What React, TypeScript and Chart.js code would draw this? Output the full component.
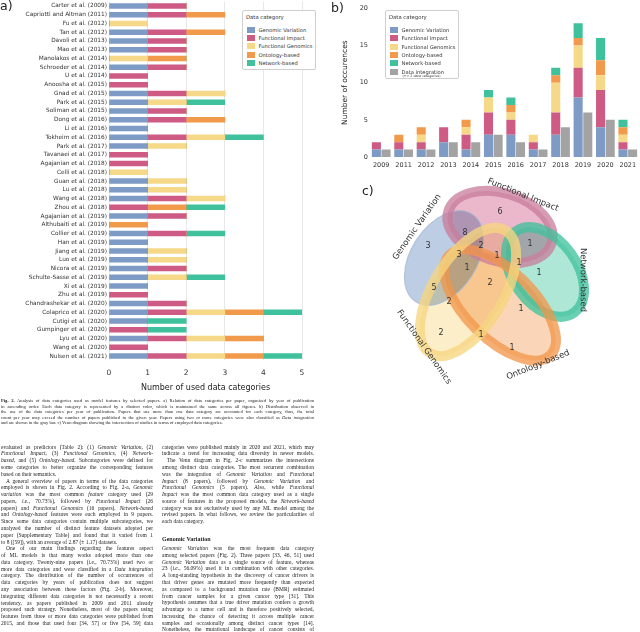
import React, { useEffect, useRef } from "react";
import { Chart, registerables } from "chart.js";
Chart.register(...registerables);

const SANS = "'DejaVu Sans', Verdana, sans-serif";
const SERIF = "'Liberation Serif', 'Times New Roman', serif";

// ---------- data ----------
const categories = ["Genomic Variation", "Functional Impact", "Functional Genomics", "Ontology-based", "Network-based"];
const categoryColors = ["#7d9bc4", "#cd5b84", "#f6d889", "#f29a4b", "#3ec19c"];
const integrationLabel = "Data integration";
const integrationColor = "#a3a3a3";

const papers = [
  "Carter et al. (2009)", "Capriotti and Altman (2011)", "Fu et al. (2012)", "Tan et al. (2012)",
  "Davoli et al. (2013)", "Mao et al. (2013)", "Manolakos et al. (2014)", "Schroeder et al. (2014)",
  "U et al. (2014)", "Anoosha et al. (2015)", "Gnad et al. (2015)", "Park et al. (2015)",
  "Soliman et al. (2015)", "Dong et al. (2016)", "Li et al. (2016)", "Tokheim et al. (2016)",
  "Park et al. (2017)", "Tavanaei et al. (2017)", "Agajanian et al. (2018)", "Celli et al. (2018)",
  "Guan et al. (2018)", "Lu et al. (2018)", "Wang et al. (2018)", "Zhou et al. (2018)",
  "Agajanian et al. (2019)", "Althubaiti et al. (2019)", "Collier et al. (2019)", "Han et al. (2019)",
  "Jiang et al. (2019)", "Luo et al. (2019)", "Nicora et al. (2019)", "Schulte-Sasse et al. (2019)",
  "Xi et al. (2019)", "Zhu et al. (2019)", "Chandrashekar et al. (2020)", "Colaprico et al. (2020)",
  "Cutigi et al. (2020)", "Gumpinger et al. (2020)", "Lyu et al. (2020)", "Wang et al. (2020)",
  "Nulsen et al. (2021)",
];
const paperGenomicVariation = [1,1,0,1,1,1,0,1,0,0,1,1,1,1,1,1,1,0,0,0,1,1,1,0,1,0,1,1,1,1,1,1,1,0,1,1,1,0,1,0,1];
const paperFunctionalImpact = [1,1,0,1,1,1,0,1,1,1,1,0,1,1,0,1,0,1,1,0,0,0,1,1,1,0,1,0,0,0,1,0,0,1,1,1,0,1,1,1,1];
const paperFunctionalGenomics = [0,0,1,0,0,0,1,0,0,0,1,1,0,0,0,1,1,0,0,1,1,1,1,0,0,0,0,0,1,1,0,1,0,0,0,1,0,0,1,0,1];
const paperOntologyBased = [0,1,0,1,0,0,1,0,0,0,0,0,0,1,0,0,0,0,0,0,0,0,0,1,0,1,0,0,0,0,0,0,0,0,0,1,0,0,1,0,1];
const paperNetworkBased = [0,0,0,0,0,0,0,0,0,0,0,1,0,0,0,1,0,0,0,0,0,0,0,1,0,0,1,0,0,0,0,1,0,0,0,1,1,1,0,0,1];
const categoryCountTicks = [0, 1, 2, 3, 4, 5];

const years = ["2009", "2011", "2012", "2013", "2014", "2015", "2016", "2017", "2018", "2019", "2020", "2021"];
const yearGenomicVariation = [1, 1, 1, 2, 1, 3, 3, 1, 3, 8, 4, 1];
const yearFunctionalImpact = [1, 1, 1, 2, 2, 3, 2, 1, 3, 4, 5, 1];
const yearFunctionalGenomics = [0, 0, 1, 0, 1, 2, 1, 1, 4, 3, 2, 1];
const yearOntologyBased = [0, 1, 1, 0, 1, 0, 1, 0, 1, 1, 2, 1];
const yearNetworkBased = [0, 0, 0, 0, 0, 1, 1, 0, 1, 2, 3, 1];
const yearDataIntegration = [1, 1, 1, 2, 2, 3, 2, 1, 4, 6, 5, 1];
const occurrenceTicks = [0, 5, 10, 15, 20];

// Venn region counts and where their labels sit (in the venn panel's own units)
const vennCounts = [6, 8, 3, 2, 1, 3, 1, 1, 1, 1, 2, 5, 2, 1, 2, 1, 1];
const vennCountX = [140, 105, 68, 121, 170, 99, 137, 159, 107, 179, 130, 74, 89, 161, 81, 121, 152];
const vennCountY = [42, 63, 76, 76, 74, 85, 86, 93, 98, 103, 113, 118, 132, 139, 163, 165, 178];

// ---------- venn shapes (geometry / style), one per category ----------
const vennShapes = [
  { cx: 84, cy: 88, rx: 52, ry: 33, rot: -1.0, fill: "rgba(178,196,222,0.85)", stroke: "rgba(160,182,212,0.9)", lw: 1.2 },
  { cx: 140, cy: 57, rx: 54, ry: 34, rot: 0.3, fill: "rgba(222,138,170,0.62)", stroke: "rgba(201,125,155,0.95)", lw: 10 },
  { cx: 108, cy: 122, rx: 72, ry: 35, rot: -1.02, fill: "rgba(250,228,168,0.62)", stroke: "rgba(246,214,128,0.97)", lw: 10 },
  { cx: 140, cy: 135, rx: 71, ry: 34, rot: 0.78, fill: "rgba(248,188,138,0.62)", stroke: "rgba(242,150,74,0.95)", lw: 10 },
  { cx: 185, cy: 102, rx: 50, ry: 32, rot: 0.95, fill: "rgba(118,214,186,0.58)", stroke: "rgba(62,193,156,0.95)", lw: 10 },
];
const vennLabels = [
  { x: 57, y: 57, rot: -0.96 },
  { x: 163, y: 25, rot: 0.38 },
  { x: 64, y: 177, rot: 0.96 },
  { x: 178, y: 195, rot: -0.38 },
  { x: 223, y: 110, rot: 1.57 },
];
const vennDrawOrder = [0, 1, 4, 3, 2];

// ---------- text ----------
const captionLines = [
  "^Fig. 2.^ Analysis of data categories used as model features by selected papers. a) Relation of data categories per paper, organized by year of publication",
  "in ascending order. Each data category is represented by a distinct color, which is maintained the same across all figures. b) Distribution observed in",
  "the use of the data categories per year of publication. Papers that use more than one data category are accounted for each category, thus, the total",
  "count per year may exceed the number of papers published in the given year. Papers using two or more categories were also classified as _Data integration_",
  "and are shown in the gray bar. c) Venn diagram showing the intersection of studies in terms of employed data categories.|",
];
const leftColumn = [
  "evaluated as predictors (Table 2): (1) _Genomic Variation_, (2)",
  "_Functional Impact_, (3) _Functional Genomics_, (4) _Network-_",
  "_based_, and (5) _Ontology-based_. Subcategories were defined for",
  "some categories to better organize the corresponding features",
  "based on their semantics.|",
  ">A general overview of papers in terms of the data categories",
  "employed is shown in Fig. 2. According to Fig. 2-a, _Genomic_",
  "_variation_ was the most common _feature_ category used (29",
  "papers, _i.e._, 70.73%), followed by _Functional Impact_ (26",
  "papers) and _Functional Genomics_ (16 papers). _Network-based_",
  "and _Ontology-based_ features were each employed in 9 papers.",
  "Since some data categories contain multiple subcategories, we",
  "analyzed the number of distinct feature datasets adopted per",
  "paper (Supplementary Table) and found that it varied from 1",
  "to 8 ([59]), with an average of 2.87 (± 1.17) datasets.|",
  ">One of our main findings regarding the features aspect",
  "of ML models is that many works adopted more than one",
  "data category. Twenty-nine papers (_i.e._, 70.73%) used two or",
  "more data categories and were classified in a _Data integration_",
  "category. The distribution of the number of occurrences of",
  "data categories by years of publication does not suggest",
  "any association between these factors (Fig. 2-b). Moreover,",
  "integrating different data categories is not necessarily a recent",
  "tendency, as papers published in 2009 and 2011 already",
  "proposed such strategy. Nonetheless, most of the papers using",
  "features from three or more data categories were published from",
  "2015, and those that used four [34, 57] or five [54, 59] data",
];
const rightColumnTop = [
  "categories were published mainly in 2020 and 2021, which may",
  "indicate a trend for increasing data diversity in newer models.",
  ">The Venn diagram in Fig. 2-c summarizes the intersections",
  "among distinct data categories. The most recurrent combination",
  "was the integration of _Genomic Variation_ and _Functional_",
  "_Impact_ (8 papers), followed by _Genomic Variation_ and",
  "_Functional Genomics_ (5 papers). Also, while _Functional_",
  "_Impact_ was the most common data category used as a single",
  "source of features in the proposed models, the _Network-based_",
  "category was not exclusively used by any ML model among the",
  "revised papers. In what follows, we review the particularities of",
  "each data category.|",
];
const sectionHeading = "Genomic Variation";
const rightColumnBottom = [
  "_Genomic Variation_ was the most frequent data category",
  "among selected papers (Fig. 2). Three papers [33, 46, 51] used",
  "_Genomic Variation_ data as a single source of feature, whereas",
  "23 (_i.e._, 56.09%) used it in combination with other categories.",
  "A long-standing hypothesis in the discovery of cancer drivers is",
  "that driver genes are mutated more frequently than expected",
  "as compared to a background mutation rate (BMR) estimated",
  "from cancer samples for a given cancer type [31]. This",
  "hypothesis assumes that a true driver mutation confers a growth",
  "advantage to a tumor cell and is therefore positively selected,",
  "increasing the chance of detecting it across multiple cancer",
  "samples and occasionally among distinct cancer types [14].",
  "Nonetheless, the mutational landscape of cancer consists of",
];

function TextLine({ text, left, top, width, size, lh }: any) {
  let t = text;
  let indent = 0;
  let last = false;
  if (t.startsWith(">")) { indent = 5; t = t.slice(1); }
  if (t.endsWith("|")) { last = true; t = t.slice(0, -1); }
  const parts = t.split(/(_[^_]+_|\^[^^]+\^)/).filter((p: string) => p.length > 0);
  return (
    <div style={{
      position: "absolute", left: left + indent, top: top - lh / 2, width: width - indent, height: lh,
      lineHeight: lh + "px", fontSize: size, fontFamily: SERIF, color: "#1c1c1c", overflow: "hidden",
      textAlign: last ? "left" : "justify", textAlignLast: last ? "left" : "justify",
    } as any}>
      {parts.map((p: string, i: number) => {
        if (p.startsWith("_") && p.endsWith("_") && p.length > 1) return <i key={i}>{p.slice(1, -1)}</i>;
        if (p.startsWith("^") && p.endsWith("^") && p.length > 1) return <b key={i}>{p.slice(1, -1)}</b>;
        return <span key={i}>{p}</span>;
      })}
    </div>
  );
}

function Legend({ left, top, width, height, names, colors, titleTop, firstTop, step, swX, textX, note }: any) {
  return (
    <div style={{ position: "absolute", left, top, width, height, border: "1px solid #cfcfcf", borderRadius: 2, background: "#fff", boxSizing: "border-box", fontFamily: SANS, color: "#333" }}>
      <div style={{ position: "absolute", left: swX - 1, top: titleTop - 4, fontSize: 5.3, lineHeight: "8px", whiteSpace: "nowrap" }}>Data category</div>
      {names.map((n: string, i: number) => (
        <React.Fragment key={n}>
          <div style={{ position: "absolute", left: swX, top: firstTop + i * step - 3, width: 7.5, height: 6, background: colors[i] }} />
          <div style={{ position: "absolute", left: textX, top: firstTop + i * step - 4, fontSize: 5.2, lineHeight: "8px", whiteSpace: "nowrap" }}>{n}</div>
        </React.Fragment>
      ))}
      {note ? (
        <div style={{ position: "absolute", left: textX + 1, top: firstTop + (names.length - 1) * step + 2.3, fontSize: 3.3, lineHeight: "5px", whiteSpace: "nowrap" }}>{note}</div>
      ) : null}
    </div>
  );
}

export default function App() {
  const refA = useRef<HTMLCanvasElement>(null);
  const refB = useRef<HTMLCanvasElement>(null);
  const refC = useRef<HTMLCanvasElement>(null);

  useEffect(() => {
    const paperSeries = [paperGenomicVariation, paperFunctionalImpact, paperFunctionalGenomics, paperOntologyBased, paperNetworkBased];
    const chartA = new Chart(refA.current as any, {
      type: "bar",
      data: {
        labels: papers,
        datasets: categories.map((c, i) => ({
          label: c, data: paperSeries[i], backgroundColor: categoryColors[i], borderWidth: 0, barThickness: 5,
        })),
      },
      options: {
        indexAxis: "y", responsive: false, animation: false,
        layout: { padding: { top: 1.6, right: 18, left: 0, bottom: 0 } },
        plugins: { legend: { display: false }, tooltip: { enabled: false } },
        scales: {
          x: {
            stacked: true, min: 0, max: 5,
            afterBuildTicks: (s: any) => { s.ticks = categoryCountTicks.map((v) => ({ value: v })); },
            ticks: { font: { family: SANS, size: 7.5 }, color: "#333", padding: 8 },
            grid: { color: "#e8e8e8", drawTicks: false, lineWidth: 1 },
            border: { display: false },
            title: { display: true, text: "Number of used data categories", font: { family: SANS, size: 8 }, color: "#222", padding: { top: 0, bottom: 7 } },
            afterFit: (s: any) => { s.height = 39.6; s.paddingLeft = 0; s.paddingRight = 0; },
          },
          y: {
            stacked: true,
            ticks: { font: { family: SANS, size: 5.8 }, color: "#333", padding: 2, autoSkip: false },
            grid: { display: false, drawTicks: false }, border: { display: false },
            afterFit: (s: any) => { s.width = 109; s.paddingTop = 0; s.paddingBottom = 0; },
          },
        },
      } as any,
    });

    const yearSeries = [yearGenomicVariation, yearFunctionalImpact, yearFunctionalGenomics, yearOntologyBased, yearNetworkBased];
    const chartB = new Chart(refB.current as any, {
      type: "bar",
      data: {
        labels: years,
        datasets: [
          ...categories.map((c, i) => ({
            label: c, data: yearSeries[i], backgroundColor: categoryColors[i], borderWidth: 0, stack: "categories",
            categoryPercentage: 0.86, barPercentage: 0.94,
          })),
          { label: integrationLabel, data: yearDataIntegration, backgroundColor: integrationColor, borderWidth: 0, stack: "integration", categoryPercentage: 0.86, barPercentage: 0.94 },
        ],
      },
      options: {
        responsive: false, animation: false,
        layout: { padding: { top: 8.3, right: 1, left: 0, bottom: 0 } },
        plugins: { legend: { display: false }, tooltip: { enabled: false } },
        scales: {
          x: {
            stacked: true, grid: { display: false, drawTicks: false }, border: { display: false },
            ticks: { font: { family: SANS, size: 6.5 }, color: "#333", padding: 4, maxRotation: 0, autoSkip: false },
            afterFit: (s: any) => { s.height = 18; s.paddingLeft = 0; s.paddingRight = 0; },
          },
          y: {
            stacked: true, min: 0, max: 20,
            afterBuildTicks: (s: any) => { s.ticks = occurrenceTicks.map((v) => ({ value: v })); },
            ticks: { font: { family: SANS, size: 6.5 }, color: "#333", padding: 2 },
            grid: { display: false, drawTicks: false }, border: { display: false },
            title: { display: true, text: "Number of occurences", font: { family: SANS, size: 7.5 }, color: "#222", padding: { top: 10.5, bottom: 0 } },
            afterFit: (s: any) => { s.width = 40; s.paddingTop = 0; s.paddingBottom = 0; },
          },
        },
      } as any,
    });

    const vennPlugin = {
      id: "vennShapes",
      beforeDatasetsDraw(chart: any) {
        const { ctx, scales: { x, y } } = chart;
        const k = x.getPixelForValue(1) - x.getPixelForValue(0);
        ctx.save();
        vennDrawOrder.forEach((idx) => {
          const s = vennShapes[idx];
          ctx.beginPath();
          ctx.ellipse(x.getPixelForValue(s.cx), y.getPixelForValue(s.cy), s.rx * k, s.ry * k, s.rot, 0, Math.PI * 2);
          ctx.globalCompositeOperation = "multiply";
          ctx.fillStyle = s.fill;
          ctx.fill();
        });
        ctx.globalCompositeOperation = "source-over";
        vennDrawOrder.forEach((idx) => {
          const s = vennShapes[idx];
          ctx.beginPath();
          ctx.ellipse(x.getPixelForValue(s.cx), y.getPixelForValue(s.cy), s.rx * k, s.ry * k, s.rot, 0, Math.PI * 2);
          ctx.strokeStyle = s.stroke;
          ctx.lineWidth = s.lw;
          ctx.globalAlpha = 0.8;
          ctx.stroke();
        });
        ctx.globalAlpha = 1;
        ctx.fillStyle = "#333";
        ctx.font = `8.5px ${SANS}`;
        ctx.textAlign = "center";
        ctx.textBaseline = "middle";
        vennLabels.forEach((l, i) => {
          ctx.save();
          ctx.translate(x.getPixelForValue(l.x), y.getPixelForValue(l.y));
          ctx.rotate(l.rot);
          ctx.fillText(categories[i], 0, 0);
          ctx.restore();
        });
        ctx.restore();
      },
      afterDatasetsDraw(chart: any) {
        const { ctx } = chart;
        const meta = chart.getDatasetMeta(0);
        ctx.save();
        ctx.fillStyle = "#333";
        ctx.font = `8px ${SANS}`;
        ctx.textAlign = "center";
        ctx.textBaseline = "middle";
        meta.data.forEach((pt: any, i: number) => ctx.fillText(String(vennCounts[i]), pt.x, pt.y));
        ctx.restore();
      },
    };
    const chartC = new Chart(refC.current as any, {
      type: "scatter",
      data: { datasets: [{ data: vennCounts.map((_, i) => ({ x: vennCountX[i], y: vennCountY[i] })), pointRadius: 0 }] },
      options: {
        responsive: false, animation: false,
        layout: { padding: 0 },
        plugins: { legend: { display: false }, tooltip: { enabled: false } },
        scales: {
          x: { type: "linear", min: 0, max: 280, display: false },
          y: { type: "linear", min: 0, max: 240, reverse: true, display: false },
        },
      } as any,
      plugins: [vennPlugin],
    });

    return () => { chartA.destroy(); chartB.destroy(); chartC.destroy(); };
  }, []);

  const lh = 6.78;
  return (
    <div style={{ position: "absolute", left: 0, top: 0, width: 640, height: 632, overflow: "hidden", background: "#fff" }}>
      <canvas ref={refA} width={320} height={400} style={{ position: "absolute", left: 0, top: 0, width: 320, height: 400 }} />
      <canvas ref={refB} width={310} height={175} style={{ position: "absolute", left: 330, top: 0, width: 310, height: 175 }} />
      <canvas ref={refC} width={280} height={240} style={{ position: "absolute", left: 360, top: 170, width: 280, height: 240 }} />

      <div style={{ position: "absolute", left: 0, top: -2, fontFamily: SANS, fontSize: 12.5, color: "#222" }}>a)</div>
      <div style={{ position: "absolute", left: 331, top: 0, fontFamily: SANS, fontSize: 12.5, color: "#222" }}>b)</div>
      <div style={{ position: "absolute", left: 362, top: 183, fontFamily: SANS, fontSize: 12.5, color: "#222" }}>c)</div>

      <Legend left={242} top={10} width={74} height={60} names={categories} colors={categoryColors}
        titleTop={5.7} firstTop={18.7} step={8.3} swX={4} textX={15.5} />
      <Legend left={385} top={10} width={74} height={69} names={[...categories, integrationLabel]} colors={[...categoryColors, integrationColor]}
        titleTop={6} firstTop={19} step={8.3} swX={4} textX={15.5} note="(>= 2 data categories)" />

      {captionLines.map((t, i) => (
        <TextLine key={"c" + i} text={t} left={1} top={401 + i * 5.4} width={313} size={4.6} lh={5.4} />
      ))}
      {leftColumn.map((t, i) => (
        <TextLine key={"l" + i} text={t} left={1} top={447 + i * lh} width={152} size={5.5} lh={lh} />
      ))}
      {rightColumnTop.map((t, i) => (
        <TextLine key={"r" + i} text={t} left={162} top={447 + i * lh} width={152} size={5.5} lh={lh} />
      ))}
      <div style={{ position: "absolute", left: 162, top: 535, fontFamily: SERIF, fontWeight: "bold", fontSize: 6, lineHeight: "8px", color: "#1c1c1c" }}>{sectionHeading}</div>
      {rightColumnBottom.map((t, i) => (
        <TextLine key={"rb" + i} text={t} left={162} top={548.5 + i * lh} width={152} size={5.5} lh={lh} />
      ))}
    </div>
  );
}
